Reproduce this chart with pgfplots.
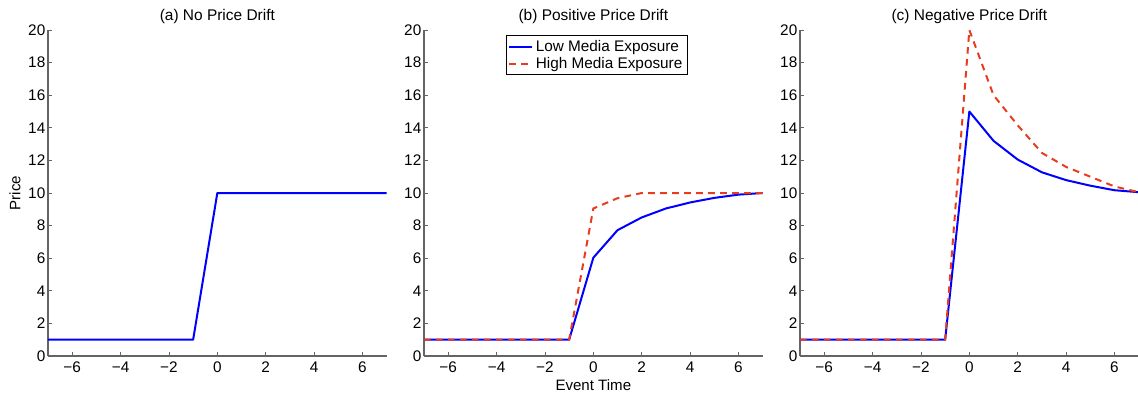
\documentclass[border=0pt]{standalone}
\usepackage{pgfplots}
\pgfplotsset{compat=1.18}
\usepackage{fontspec}
\setmainfont{Liberation Sans}
\definecolor{lowblue}{RGB}{0,0,255}
\definecolor{highred}{RGB}{232,60,30}
\definecolor{axgray}{RGB}{100,100,100}

\pgfplotsset{
  panel/.style={
    scale only axis,
    width=254pt, height=244.5pt,
    xmin=-7, xmax=7, ymin=0, ymax=20,
    axis x line*=bottom, axis y line*=left,
    axis line style={axgray, line width=0.9pt},
    xtick={-6,-4,-2,0,2,4,6},
    xticklabels={−6,−4,−2,0,2,4,6},
    ytick={0,2,...,20},
    tick align=inside,
    major tick length=3pt,
    tick style={axgray, line width=0.6pt},
    tick label style={font=\fontsize{11.5}{13}\selectfont, text=black},
    /pgf/number format/assume math mode=true,
    xticklabel style={yshift=-1pt},
    yticklabel style={xshift=1.5pt},
    title style={font=\fontsize{11.6}{13}\selectfont, yshift=-5pt},
    label style={font=\fontsize{11.3}{13}\selectfont},
    clip=false,
  },
  low/.style={lowblue, line width=1.5pt, line join=round},
  high/.style={highred, line width=1.5pt, dash pattern=on 5pt off 4pt},
}

\begin{document}
\begin{tikzpicture}
\path[use as bounding box] (0,0) rectangle (853.5pt,300pt);

% (a) price jumps once and stays
\begin{axis}[panel, at={(36pt,33pt)}, anchor=south west,
  title={(a) No Price Drift}, ylabel={Price},
  ylabel style={yshift=-1pt}]
\addplot[low] coordinates {
  (-7,1) (-6,1) (-5,1) (-4,1) (-3,1) (-2,1) (-1,1)
  (0,10) (1,10) (2,10) (3,10) (4,10) (5,10) (6,10) (7,10)};
\end{axis}

% (b) gradual rise toward the new level
\begin{axis}[panel, at={(318pt,33pt)}, anchor=south west,
  title={(b) Positive Price Drift}, xlabel={Event Time},
  xlabel style={yshift=2pt},
  legend style={at={(0.51,0.985)}, anchor=north, draw=black, line width=0.6pt,
    font=\fontsize{11.5}{13}\selectfont, inner sep=1.5pt, row sep=-1pt,
    cells={anchor=west}},
  legend cell align=left]
\addplot[low] coordinates {
  (-7,1) (-6,1) (-5,1) (-4,1) (-3,1) (-2,1) (-1,1)
  (0,6.03) (1,7.72) (2,8.5) (3,9.05) (4,9.42) (5,9.7) (6,9.9) (7,10)};
\addlegendentry{Low Media Exposure}
\addplot[high] coordinates {
  (-7,1) (-6,1) (-5,1) (-4,1) (-3,1) (-2,1) (-1,1)
  (0,9.05) (1,9.68) (2,10) (3,10) (4,10) (5,10) (6,10) (7,10)};
\addlegendentry{High Media Exposure}
\end{axis}

% (c) overshoot followed by reversal
\begin{axis}[panel, at={(600pt,33pt)}, anchor=south west,
  title={(c) Negative Price Drift}]
\addplot[low] coordinates {
  (-7,1) (-6,1) (-5,1) (-4,1) (-3,1) (-2,1) (-1,1)
  (0,15) (1,13.2) (2,12.05) (3,11.27) (4,10.79) (5,10.45) (6,10.17) (7,10.05)};
\addplot[high] coordinates {
  (-7,1) (-6,1) (-5,1) (-4,1) (-3,1) (-2,1) (-1,1)
  (0,20) (1,16) (2,14.15) (3,12.46) (4,11.6) (5,11.0) (6,10.4) (7,10.05)};
\end{axis}
\end{tikzpicture}
\end{document}
